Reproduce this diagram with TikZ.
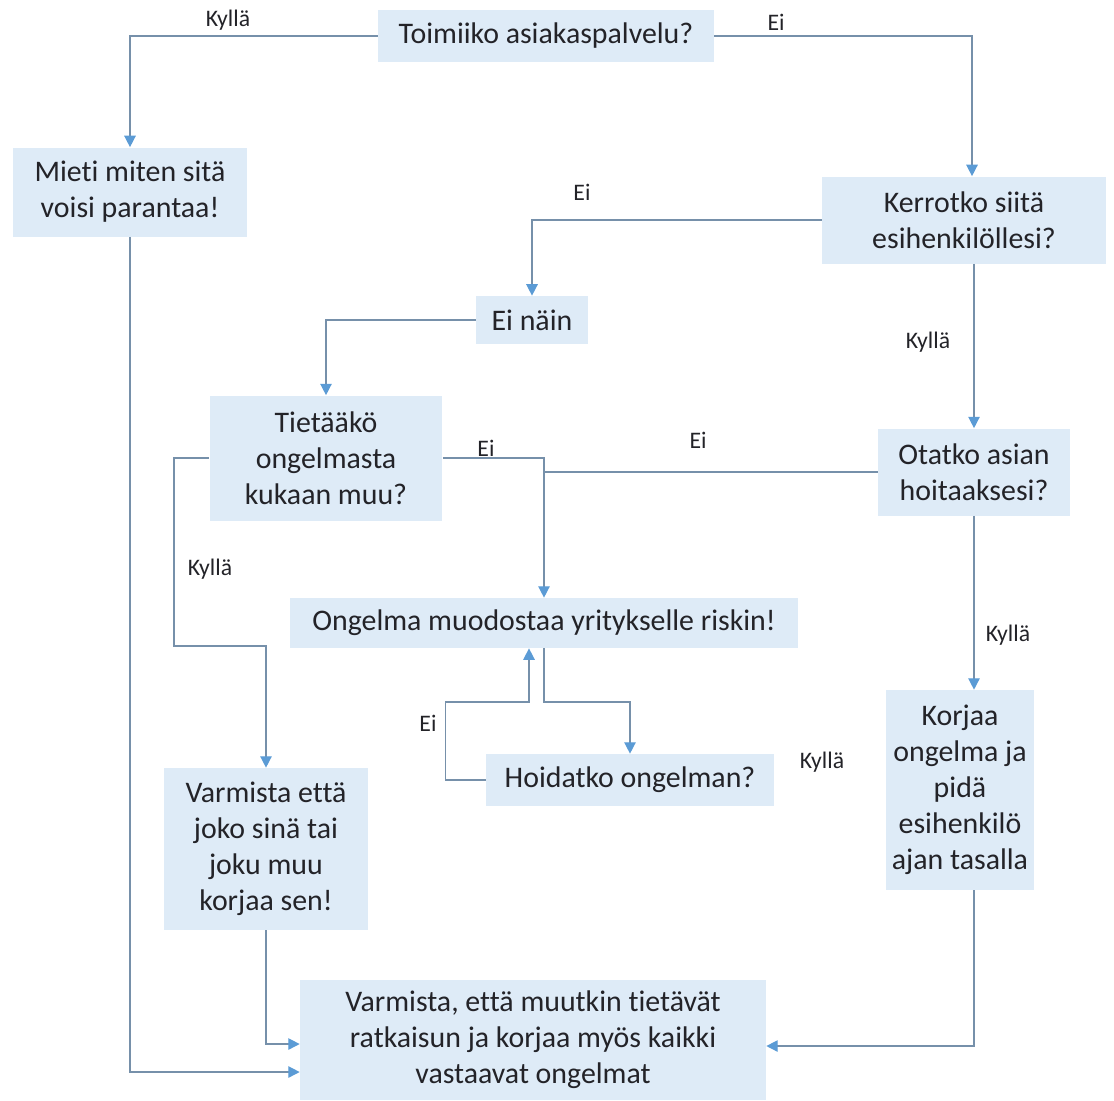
\documentclass[tikz,border=0pt]{standalone}
\usepackage{fontspec}
\setmainfont[Ligatures={NoCommon,NoRare,NoContextual}, Contextuals=NoAlternate]{Carlito}
\usetikzlibrary{arrows.meta, positioning}
\definecolor{boxfill}{RGB}{222,235,247}
\definecolor{linegray}{RGB}{118,144,170}
\definecolor{tipblue}{RGB}{91,155,213}
\definecolor{txtdark}{RGB}{35,35,40}
\tikzset{
  block/.style={rectangle, fill=boxfill, align=center, inner sep=0pt,
    font=\fontsize{17}{20.5}\selectfont, text=txtdark},
  arrow/.style={-{Triangle[length=6.5pt, width=6.5pt, color=tipblue]}, line width=0.8pt, color=linegray},
  line/.style={line width=0.8pt, color=linegray},
  lbl/.style={font=\fontsize{13.5}{16}\selectfont, text=txtdark}
}
\begin{document}
\begin{tikzpicture}[x=0.02cm, y=-0.02cm]
  \useasboundingbox (0,0) rectangle (1114,1100);
  % boxes
  \node[block, minimum width=6.72cm, minimum height=1.04cm] (toimii) at (546,36) {Toimiiko asiakaspalvelu?};
  \node[block, minimum width=4.7cm, minimum height=1.78cm] (mieti) at (130,192) {Mieti miten sitä\\voisi parantaa!};
  \node[block, minimum width=5.68cm, minimum height=1.74cm] (kerro) at (964,220) {Kerrotko siitä\\esihenkilöllesi?};
  \node[block, minimum width=2.24cm, minimum height=0.96cm] (einain) at (532,320) {Ei näin};
  \node[block, minimum width=4.66cm, minimum height=2.5cm] (tietaa) at (326,458) {Tietääkö\\ongelmasta\\kukaan muu?};
  \node[block, minimum width=3.84cm, minimum height=1.74cm] (otatko) at (974,472) {Otatko asian\\hoitaaksesi?};
  \node[block, minimum width=10.16cm, minimum height=1.0cm] (riski) at (544,623) {Ongelma muodostaa yritykselle riskin!};
  \node[block, minimum width=5.76cm, minimum height=1.04cm] (hoid) at (630,780) {Hoidatko ongelman?};
  \node[block, minimum width=4.08cm, minimum height=3.24cm] (varm) at (266,849) {Varmista että\\joko sinä tai\\joku muu\\korjaa sen!};
  \node[block, minimum width=2.96cm, minimum height=4.0cm] (korjaa) at (960,790) {Korjaa\\ongelma ja\\pidä\\esihenkilö\\ajan tasalla};
  \node[block, minimum width=9.32cm, minimum height=2.4cm] (final) at (533,1040) {Varmista, että muutkin tietävät\\ratkaisun ja korjaa myös kaikki\\vastaavat ongelmat};
  % helper points
  \coordinate (kk) at (174,646);
  \coordinate (rr) at (546,702);
  \coordinate (rin) at ([xshift=-0.3cm]riski.south);
  % connectors
  \draw[arrow] (toimii.west) -| (mieti.north);
  \draw[arrow] (toimii.east) -| ([xshift=0.16cm]kerro.north);
  \draw[arrow] (kerro.west) -| (einain.north);
  \draw[arrow] (otatko.north |- kerro.south) -- (otatko.north);
  \draw[arrow] (einain.west) -| (tietaa.north);
  \draw[arrow] (tietaa.east) -| (riski.north);
  \draw[line] (otatko.west) -- (otatko.west -| riski.north);
  \draw[arrow] (tietaa.west) -| (kk) -| (varm.north);
  \draw[arrow] (otatko.south) -- (otatko.south |- korjaa.north);
  \draw[arrow] (riski.south) -- (riski.south |- rr) -| (hoid.north);
  \draw[arrow] (hoid.west) -- ++(-40,0) |- (rin |- rr) -- (rin);
  \draw[arrow] (mieti.south) |- ([yshift=-0.64cm]final.west);
  \draw[arrow] (varm.south) |- ([yshift=-0.08cm]final.west);
  \draw[arrow] (otatko.south |- korjaa.south) |- ([yshift=-0.12cm]final.east);
  % labels
  \node[lbl] (l1) at (228,20) {Kyllä};
  \node[lbl] (l2) at (776,22) {Ei};
  \node[lbl] (l3) at (582,192) {Ei};
  \node[lbl] (l4) at (928,342) {Kyllä};
  \node[lbl] (l5) at (486,448) {Ei};
  \node[lbl] (l6) at (698,440) {Ei};
  \node[lbl] (l7) at (210,569) {Kyllä};
  \node[lbl] (l8) at (1008,635) {Kyllä};
  \node[lbl] (l9) at (428,723) {Ei};
  \node[lbl] (l10) at (822,762) {Kyllä};
\end{tikzpicture}
\end{document}
